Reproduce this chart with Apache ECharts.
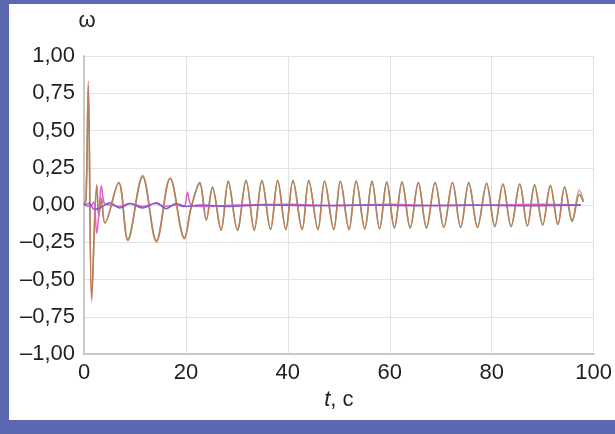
<!DOCTYPE html>
<html><head><meta charset="utf-8">
<script src="https://cdn.jsdelivr.net/npm/echarts@6/dist/echarts.min.js"></script>
<style>
html,body{margin:0;padding:0;background:#5b67b0;}
#frame{position:absolute;left:9px;top:4px;width:606px;height:416px;background:#fff;}
#chart{position:absolute;left:0;top:0;width:615px;height:434px;}
</style></head>
<body><div id="frame"></div><div id="chart"></div>
<script>
// Main oscillation (red) – extrema
const mainT = [0,0.4,0.85,1.5,2.5,2.9,3.4,4.1,6.8,8.6,11.5,14.2,16.9,19.7,21.0,22.7,24.0,25.2,26.9,28.3,30.1,31.8,33.4,34.9,36.6,38.0,39.6,41.0,42.8,44.1,45.9,47.2,49.0,50.3,52.0,53.4,55.1,56.5,58.0,59.4,60.9,62.4,64.0,65.6,67.2,68.9,70.6,72.3,73.9,75.5,77.2,79.0,80.6,82.2,83.8,85.5,87.0,88.4,90.0,91.5,93.0,94.3,95.8,97.2,98.0];
const redV = [0,0.05,0.83,-0.65,0.14,-0.08,0.05,-0.12,0.15,-0.24,0.20,-0.25,0.18,-0.23,-0.02,0.14,-0.10,0.11,-0.16,0.15,-0.16,0.16,-0.16,0.16,-0.16,0.16,-0.16,0.16,-0.16,0.16,-0.16,0.16,-0.16,0.16,-0.16,0.16,-0.16,0.155,-0.155,0.15,-0.15,0.15,-0.15,0.15,-0.15,0.15,-0.15,0.15,-0.15,0.145,-0.145,0.14,-0.14,0.14,-0.14,0.14,-0.14,0.13,-0.13,0.13,-0.13,0.12,-0.10,0.10,0.03];
const greenV = [0,0.04,0.80,-0.63,0.13,-0.07,0.04,-0.12,0.15,-0.23,0.19,-0.24,0.18,-0.22,-0.02,0.15,-0.10,0.12,-0.17,0.16,-0.17,0.165,-0.17,0.165,-0.165,0.165,-0.165,0.165,-0.165,0.165,-0.165,0.16,-0.165,0.16,-0.165,0.16,-0.16,0.16,-0.16,0.155,-0.155,0.155,-0.155,0.15,-0.155,0.15,-0.15,0.15,-0.15,0.15,-0.15,0.145,-0.145,0.14,-0.145,0.14,-0.14,0.135,-0.135,0.13,-0.13,0.12,-0.11,0.07,0.02];
// Small series near zero
const pinkT = [0,1.2,1.9,2.5,3.0,3.4,4.0,5.0,7.0,9.0,11.5,14.0,16.0,18.0,19.6,20.3,21.0,23.0,30.0,40.0,50.0,60.0,70.0,80.0,90.0,97.5];
const pinkV = [0,-0.01,0.02,-0.19,-0.02,0.13,0.01,0.0,-0.01,0.01,-0.01,0.01,-0.01,0.0,-0.01,0.085,0.0,-0.01,0.0,0.005,-0.005,0.005,-0.005,0.0,0.005,0.0];
const purpleT = [0,1.0,2.0,3.1,5.1,7.0,9.0,11.5,14.2,16.1,18.1,20.0,23.0,28.0,35.0,45.0,55.0,65.0,75.0,85.0,97.5];
const purpleV = [0,0.01,-0.03,-0.02,0.015,-0.02,0.01,-0.02,0.015,-0.025,0.01,-0.01,0.0,-0.01,0.0,-0.005,0.0,-0.005,0.0,-0.005,0.0];
const xTicks = [0,20,40,60,80,100];

const zip = (t,v)=>t.map((x,i)=>[x,v[i]]);
const font = 'Liberation Sans, Arial, sans-serif';
const fs = 22;
const chart = echarts.init(document.getElementById('chart'), null, {renderer:'canvas'});
chart.setOption({
  backgroundColor:'transparent',
  animation:false,
  grid:{left:84,right:19,top:56,bottom:80,containLabel:false},
  xAxis:{type:'value',min:xTicks[0],max:xTicks[xTicks.length-1],interval:20,
    name:'{i|t}, c',nameLocation:'middle',nameGap:28,
    nameTextStyle:{fontFamily:font,fontSize:fs,color:'#231f20',rich:{i:{fontStyle:'italic',fontFamily:font,fontSize:fs,color:'#231f20'}}},
    axisLine:{show:true,onZero:false,lineStyle:{color:'#c8c8c8',width:2}},
    axisTick:{show:false},
    axisLabel:{fontFamily:font,fontSize:fs,color:'#231f20',margin:8},
    splitLine:{show:true,lineStyle:{color:'#e2e2e2',width:1}}},
  yAxis:{type:'value',min:-1,max:1,interval:0.25,
    name:'ω',nameLocation:'end',nameGap:24,
    nameTextStyle:{fontFamily:font,fontSize:fs,color:'#231f20',align:'center',padding:[0,0,0,6]},
    axisLine:{show:true,onZero:false,lineStyle:{color:'#c8c8c8',width:2}},
    axisTick:{show:false},
    axisLabel:{fontFamily:font,fontSize:fs,color:'#231f20',margin:9,
      formatter:v=>{const s=Math.abs(v).toFixed(2).replace('.',',');return (v< -1e-9?'–':'')+s;}},
    splitLine:{show:true,lineStyle:{color:'#e2e2e2',width:1}}},
  series:[
    {type:'line',data:zip(mainT,greenV),smooth:0.35,showSymbol:false,lineStyle:{color:'#5e9a5c',width:1.6}},
    {type:'line',data:zip(mainT,redV),smooth:0.35,showSymbol:false,lineStyle:{color:'#e8705a',width:1.5,opacity:0.75}},
    {type:'line',data:zip(pinkT,pinkV),smooth:0.35,showSymbol:false,lineStyle:{color:'#e060c8',width:1.5}},
    {type:'line',data:zip(purpleT,purpleV),smooth:0.35,showSymbol:false,lineStyle:{color:'#7a5cc8',width:1.5}}
  ]
});
</script></body></html>
